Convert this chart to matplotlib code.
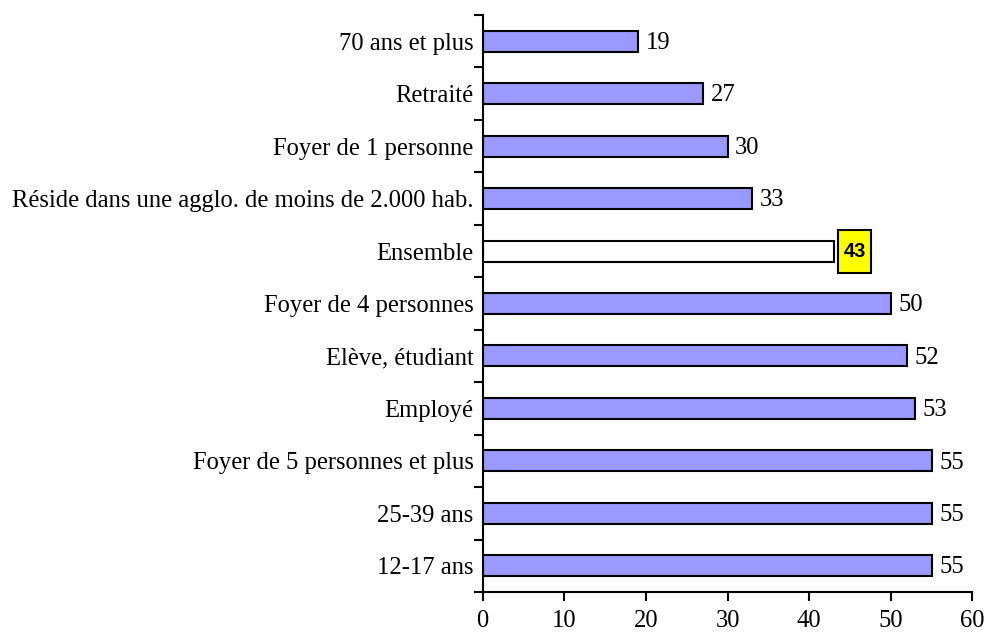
import matplotlib
matplotlib.use("Agg")
import matplotlib.pyplot as plt
from matplotlib.patches import Rectangle

categories = ["70 ans et plus", "Retraité", "Foyer de 1 personne",
              "Réside dans une agglo. de moins de 2.000 hab.", "Ensemble",
              "Foyer de 4 personnes", "Elève, étudiant", "Employé",
              "Foyer de 5 personnes et plus", "25-39 ans", "12-17 ans"]
values = [19, 27, 30, 33, 43, 50, 52, 53, 55, 55, 55]
highlight = "Ensemble"
xticks = [0, 10, 20, 30, 40, 50, 60]

plt.rcParams['font.family'] = ['Liberation Serif', 'DejaVu Serif']
FS = 17.7

fig = plt.figure(figsize=(9.86, 6.32), dpi=100)
ax = fig.add_axes([0.4896, 0.0633, 0.4966, 0.9130])

n = len(categories)
ypos = [n - 1 - i for i in range(n)]
colors = ["white" if c == highlight else "#9999FF" for c in categories]
ax.barh(ypos, values, height=0.40, color=colors, edgecolor="black", linewidth=1.5)

for y, v, c in zip(ypos, values, categories):
    if c == highlight:
        bx, bw, bh = v + 0.55, 4.05, 0.82
        ax.add_patch(Rectangle((bx, y - bh / 2), bw, bh, facecolor="yellow",
                               edgecolor="black", linewidth=1.5, clip_on=False, zorder=3))
        ax.text(bx + bw / 2, y, f"{v}", va="center", ha="center", fontsize=14.5,
                fontweight="bold", family=["Liberation Sans", "DejaVu Sans"], zorder=4)
    else:
        ax.annotate(f"{v}", xy=(v, y), xytext=(5.5, -1.2), textcoords="offset points",
                    va="center", ha="left", fontsize=FS)

ax.set_xlim(0, 60)
ax.set_ylim(-0.5, n - 0.5)
ax.set_xticks(xticks)
ax.set_xticklabels([str(t) for t in xticks], fontsize=FS)
ax.set_yticks(ypos)
ax.set_yticklabels(categories, fontsize=FS)
ax.set_yticks([i - 0.5 for i in range(n + 1)], minor=True)
ax.tick_params(axis="y", which="major", length=0, pad=6.5)
ax.tick_params(axis="y", which="minor", length=6.5, width=1.5, direction="out")
ax.tick_params(axis="x", which="major", length=6.2, width=1.5, direction="out", pad=7)
for s in ["top", "right"]:
    ax.spines[s].set_visible(False)
for s in ["left", "bottom"]:
    ax.spines[s].set_linewidth(1.5)

fig.savefig("out.png", dpi=100)
